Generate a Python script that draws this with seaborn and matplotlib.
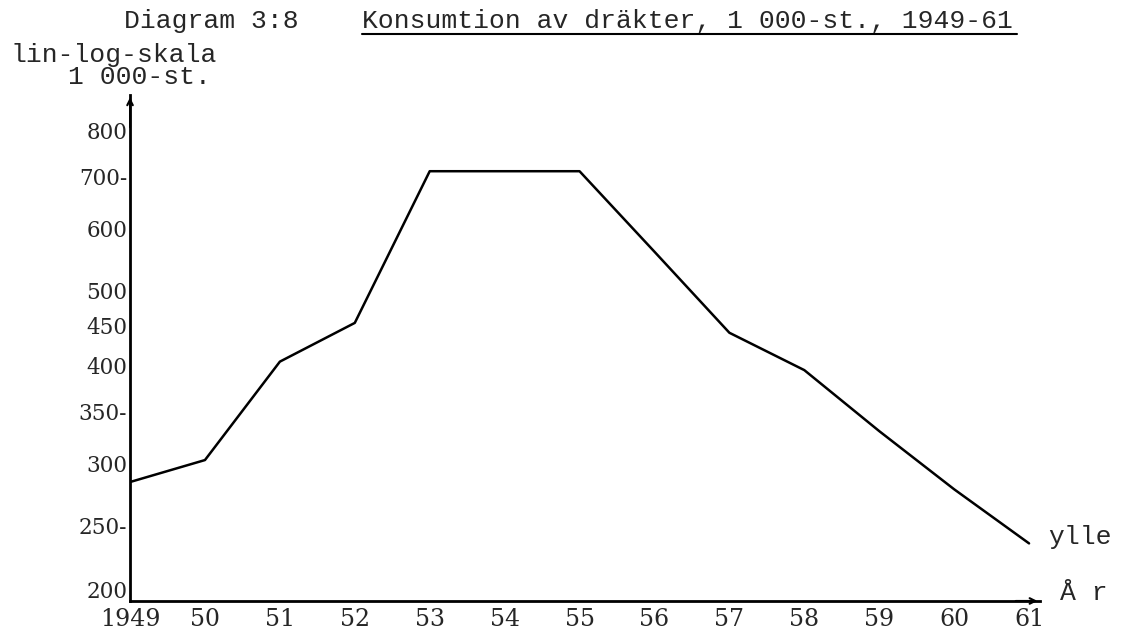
import matplotlib
matplotlib.use("Agg")
import matplotlib.pyplot as plt
import matplotlib.ticker as mticker
import matplotlib.transforms as mtransforms
import seaborn as sns
import pandas as pd

# data (1 000 st., wool suits)
years = [1949, 1950, 1951, 1952, 1953, 1954, 1955, 1956, 1957, 1958, 1959, 1960, 1961]
ylle = [284, 303, 405, 454, 710, 710, 710, 560, 441, 395, 330, 278, 237]

xtick_labels = ["1949", "50", "51", "52", "53", "54", "55", "56", "57", "58", "59", "60", "61"]
ytick_values = [200, 250, 300, 350, 400, 450, 500, 600, 700, 800]
ytick_labels = ["200", "250-", "300", "350-", "400", "450", "500", "600", "700-", "800"]

df = pd.DataFrame({"year": years, "ylle": ylle})

sns.set_style("white")
plt.rcParams["font.family"] = ["Liberation Mono", "DejaVu Sans"]

fig = plt.figure(figsize=(11.21, 6.33), dpi=100)
ax = fig.add_axes([0.116, 0.0506, 0.812, 0.80])

sns.lineplot(data=df, x="year", y="ylle", color="black", lw=1.8, ax=ax)

ax.set_yscale("log")
ax.set_ylim(200, 890)
ax.set_xlim(1949, 1961.15)

ax.yaxis.set_major_locator(mticker.FixedLocator(ytick_values))
ax.yaxis.set_minor_locator(mticker.NullLocator())
ax.set_yticklabels(ytick_labels)
ax.set_xticks(years)
ax.set_xticklabels(xtick_labels)

ax.tick_params(axis="both", direction="in", length=6, width=1.5, color="black")
ax.tick_params(axis="x", pad=5, labelsize=17)
ax.tick_params(axis="y", pad=2, labelsize=15.5)
for lab in ax.get_xticklabels() + ax.get_yticklabels():
    lab.set_fontfamily("DejaVu Serif")

# "200" sits a little above the x axis in the original
lab200 = ax.get_yticklabels()[0]
lab200.set_transform(lab200.get_transform() +
                     mtransforms.ScaledTranslation(0, 11 / 100, fig.dpi_scale_trans))

for side in ["top", "right"]:
    ax.spines[side].set_visible(False)
for side in ["left", "bottom"]:
    ax.spines[side].set_linewidth(2)
    ax.spines[side].set_color("black")
ax.set_xlabel("")
ax.set_ylabel("")

# axis arrow heads
ax.annotate("", xy=(0, 1.0), xytext=(0, 0.93), xycoords="axes fraction",
            arrowprops=dict(arrowstyle="->", lw=1.5, color="black"))
ax.annotate("", xy=(1.0, 0), xytext=(0.97, 0), xycoords="axes fraction",
            arrowprops=dict(arrowstyle="->", lw=1.5, color="black"))

# texts
fs = 19
fig.text(124 / 1121, 1 - 28 / 633, "Diagram 3:8", fontsize=fs, ha="left", va="baseline")
fig.text(362 / 1121, 1 - 28 / 633, "Konsumtion av dräkter, 1 000-st., 1949-61",
         fontsize=fs, ha="left", va="baseline")
fig.add_artist(plt.Line2D([362 / 1121, 1017 / 1121], [1 - 34 / 633, 1 - 34 / 633],
                          color="black", lw=1.5))
fig.text(10 / 1121, 1 - 62 / 633, "lin-log-skala", fontsize=fs, ha="left", va="baseline")
fig.text(68 / 1121, 1 - 84 / 633, "1 000-st.", fontsize=fs, ha="left", va="baseline")
fig.text(1048 / 1121, 1 - 544 / 633, "ylle", fontsize=fs, ha="left", va="baseline")
fig.text(1060 / 1121, 1 - 600 / 633, "Å r", fontsize=fs, ha="left", va="baseline")

fig.savefig("out.png", dpi=100, facecolor="white")
